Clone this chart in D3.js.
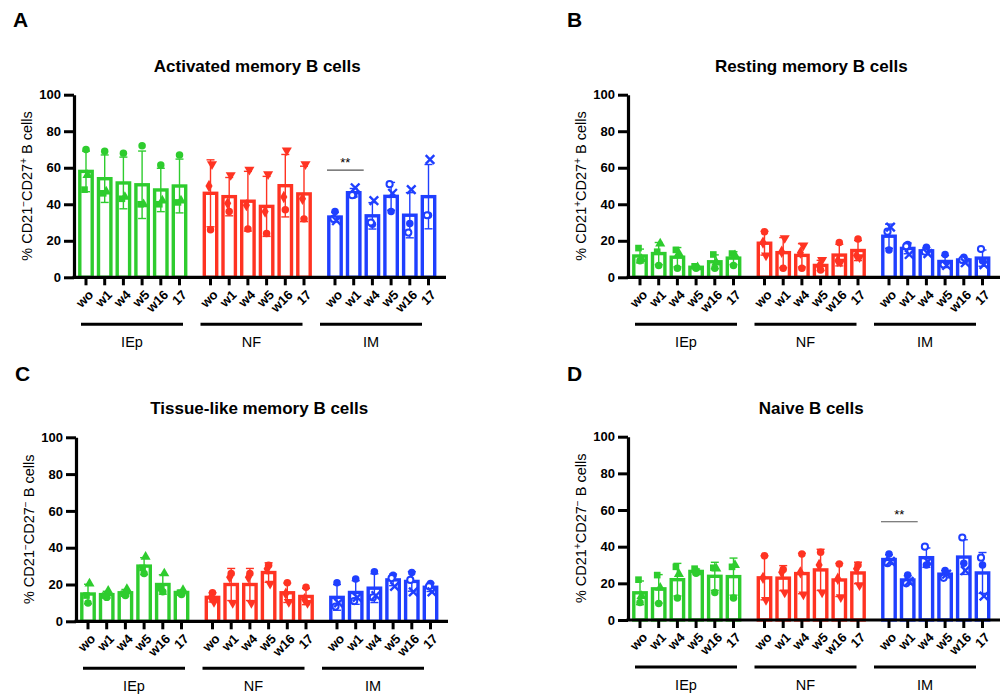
<!DOCTYPE html>
<html>
<head>
<meta charset="utf-8">
<script src="https://cdn.jsdelivr.net/npm/d3@7"></script>
<style>
body { margin: 0; background: #fff; }
text { font-family: "Liberation Sans", Arial, sans-serif; }
</style>
</head>
<body>
<script>
// time points and groups
var timepoints = ["wo", "w1", "w4", "w5", "w16", "17"];
var groups = ["IEp", "NF", "IM"];

// values per bar: three subjects each
// IEp: [circle, square, triangle]; NF: [circle, diamond, down-triangle]; IM: [circle, open circle, x]
var activated = [
    [[70, 48, 56], [69, 46, 47], [68, 43, 44], [72, 40, 40], [61.5, 40, 42], [67, 41, 42]],
    [[26, 50, 62], [36, 40.5, 56], [26.5, 39.5, 59], [24, 36, 56.5], [37, 44, 69.5], [32, 43, 62]],
    [[36, 32, 31], [45, 45, 49], [29, 30, 42], [36, 51, 46], [29.5, 24.5, 48], [34, 34, 64.5]]
];
var resting = [
    [[9, 16, 10], [6.5, 14, 18.5], [5, 15, 13], [5, 6, 5.5], [5, 12.5, 8], [6.5, 13, 12]],
    [[25, 19, 12], [5, 14, 21.5], [5, 13.5, 17.5], [4, 6, 9.5], [19, 9, 8.5], [21, 12, 11]],
    [[15, 25, 27.5], [18, 17, 12.5], [16.5, 14, 13], [12.5, 7, 6.5], [11, 9.5, 8], [9, 15.5, 7]]
];
var tissueLike = [
    [[10, 14, 20.5], [13, 14, 16.5], [14, 15, 17.5], [26, 29, 35], [16, 18, 26], [14.5, 15.5, 17]],
    [[15.5, 13, 10.5], [26, 24, 10], [26, 24, 10], [30.5, 28.5, 20.5], [21, 15, 10.5], [18.5, 12, 10]],
    [[21, 8, 10], [23, 11, 13], [27, 13, 14], [25, 23.5, 19], [26.5, 22.5, 16], [20.5, 19, 16]]
];
var naive = [
    [[9.5, 22, 13], [9, 24.5, 17.5], [12, 29, 25], [25.5, 28, 26], [15, 28.5, 28], [12, 29, 30]],
    [[35, 23, 11], [27.5, 26, 15], [36, 26, 14], [37, 30, 15], [30.5, 22.5, 12.5], [30, 28, 19]],
    [[36, 31, 32], [24.5, 20, 21], [30, 40, 32], [27, 23, 25], [31, 45, 27], [30, 34, 13]]
];
var yTicks = [0, 20, 40, 60, 80, 100];

var colors = ["#2ecc2e", "#ff3322", "#1f3fff"];
var shapes = [
    ["circle", "square", "triangle"],
    ["circle", "diamond", "down"],
    ["circle", "open", "x"]
];

var panels = [
    { letter: "A", title: "Activated memory B cells", data: activated, ax: 74, y0: 277.3, y1: 94.7, sup: ["\u2212", "+"], sig: 58.7 },
    { letter: "B", title: "Resting memory B cells", data: resting, ax: 628, y0: 277.3, y1: 94.7, sup: ["+", "+"] },
    { letter: "C", title: "Tissue-like memory B cells", data: tissueLike, ax: 76, y0: 621.3, y1: 437.3, sup: ["\u2212", "\u2212"] },
    { letter: "D", title: "Naive B cells", data: naive, ax: 628, y0: 620, y1: 436.7, sup: ["+", "\u2212"], sig: 53.6 }
];

var FONT = "'Liberation Sans', Arial, sans-serif";

var svg = d3.select("body").append("svg")
    .attr("width", 1001)
    .attr("height", 700)
    .attr("font-family", FONT);

var step = 18.7, groupStride = 124.5;

function symbolPath(kind) {
    var t = { circle: d3.symbolCircle, open: d3.symbolCircle, square: d3.symbolSquare,
              triangle: d3.symbolTriangle, down: d3.symbolTriangle, diamond: d3.symbolDiamond, x: d3.symbolX }[kind];
    var size = kind === "x" ? 50 : (kind === "open" ? 30 : 44);
    return d3.symbol().type(t).size(size)();
}

panels.forEach(function (p) {
    var g = svg.append("g");
    var y = d3.scaleLinear().domain([0, 100]).range([p.y0, p.y1]);
    var x = d3.scaleLinear().domain([0, 1]).range([p.ax + 12, p.ax + 12 + step]);
    var pos = function (gi, i) { return x(gi * groupStride / step + i); };
    var topPanel = p.y0 < 400;

    // letter and title
    g.append("text").attr("x", p.ax - 61).attr("y", topPanel ? 27 : 381)
        .attr("font-size", 21).attr("font-weight", "bold").text(p.letter);
    g.append("text").attr("x", (pos(0, 0) + pos(2, 5)) / 2).attr("y", p.y1 - 23)
        .attr("text-anchor", "middle").attr("font-size", 17).attr("font-weight", "bold").text(p.title);

    // y label
    var lab = g.append("text")
        .attr("transform", "translate(" + (p.ax - 42) + "," + ((p.y0 + p.y1) / 2) + ") rotate(-90)")
        .attr("text-anchor", "middle").attr("font-size", 14.5);
    lab.append("tspan").text("% CD21");
    lab.append("tspan").attr("dy", -5).attr("font-size", 10).text(p.sup[0]);
    lab.append("tspan").attr("dy", 5).text("CD27");
    lab.append("tspan").attr("dy", -5).attr("font-size", 10).text(p.sup[1]);
    lab.append("tspan").attr("dy", 5).text(" B cells");

    // bars
    p.data.forEach(function (grp, gi) {
        grp.forEach(function (vals, i) {
            var cx = pos(gi, i);
            var m = d3.mean(vals), sd = d3.deviation(vals);
            var col = colors[gi];
            g.append("rect")
                .attr("x", cx - 6.2).attr("width", 12.4)
                .attr("y", y(m)).attr("height", y(0) - y(m))
                .attr("fill", "#fff").attr("stroke", col).attr("stroke-width", 3.4);
            // error bar
            g.append("line").attr("x1", cx).attr("x2", cx).attr("y1", y(m - sd)).attr("y2", y(m + sd))
                .attr("stroke", col).attr("stroke-width", 1.4);
            [m - sd, m + sd].forEach(function (v) {
                g.append("line").attr("x1", cx - 4).attr("x2", cx + 4).attr("y1", y(v)).attr("y2", y(v))
                    .attr("stroke", col).attr("stroke-width", 1.4);
            });
            // points
            vals.forEach(function (v, k) {
                var kind = shapes[gi][k];
                var off = [0, -1.5, 1.5][k];
                var s = g.append("path").attr("d", symbolPath(kind))
                    .attr("transform", "translate(" + (cx + off) + "," + y(v) + ")" + (kind === "down" ? " rotate(180)" : ""));
                if (kind === "open") s.attr("fill", "#fff").attr("stroke", col).attr("stroke-width", 2);
                else if (kind === "x") s.attr("fill", "none").attr("stroke", col).attr("stroke-width", 2.4);
                else s.attr("fill", col);
            });
        });
    });

    // y axis
    var yAxis = d3.axisLeft(y).tickValues(yTicks).tickSize(10).tickPadding(3).tickSizeOuter(0);
    var ya = g.append("g").attr("transform", "translate(" + p.ax + ",0)").call(yAxis);
    ya.select(".domain").attr("stroke-width", 3.2);
    ya.selectAll(".tick line").attr("stroke-width", 3);
    ya.selectAll(".tick text").attr("font-size", 13).attr("font-weight", "bold")
        .attr("font-family", FONT).attr("fill", "#000");

    // x axis
    g.append("line").attr("x1", p.ax - 1.5).attr("x2", p.ax + 372).attr("y1", p.y0).attr("y2", p.y0)
        .attr("stroke", "#000").attr("stroke-width", 3.2);
    groups.forEach(function (gn, gi) {
        timepoints.forEach(function (t, i) {
            var cx = pos(gi, i);
            g.append("line").attr("x1", cx).attr("x2", cx).attr("y1", p.y0).attr("y2", p.y0 + 8)
                .attr("stroke", "#000").attr("stroke-width", 3);
            g.append("text")
                .attr("transform", "translate(" + (cx + 5) + "," + (p.y0 + 15) + ") rotate(-45)")
                .attr("text-anchor", "end").attr("dy", "0.35em")
                .attr("font-size", 13).attr("font-weight", "bold").text(t);
        });
        var ls = pos(gi, 0) - 5 - gi * 5;
        g.append("line").attr("x1", ls).attr("x2", ls + 102).attr("y1", p.y0 + 47).attr("y2", p.y0 + 47)
            .attr("stroke", "#000").attr("stroke-width", 3);
        g.append("text").attr("x", ls + 51).attr("y", p.y0 + 70).attr("text-anchor", "middle")
            .attr("font-size", 14.5).text(gn);
    });

    // significance
    if (p.sig) {
        var sx1 = pos(2, 0) - 8, sx2 = pos(2, 1) + 10;
        g.append("line").attr("x1", sx1).attr("x2", sx2).attr("y1", y(p.sig)).attr("y2", y(p.sig))
            .attr("stroke", "#555").attr("stroke-width", 1.2);
        g.append("text").attr("x", (sx1 + sx2) / 2).attr("y", y(p.sig) - 3).attr("text-anchor", "middle")
            .attr("font-size", 13).text("**");
    }
});
</script>
</body>
</html>
